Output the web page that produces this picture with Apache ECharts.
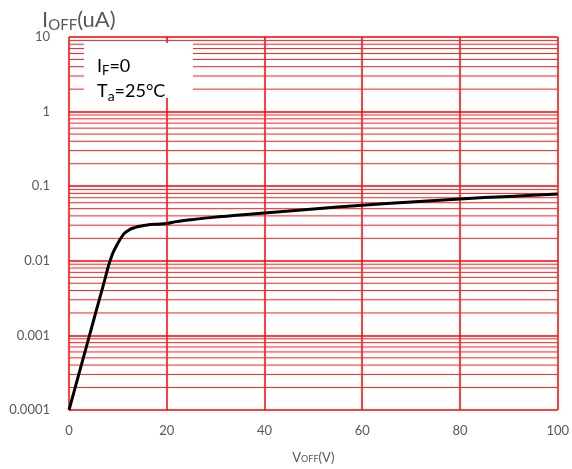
<!DOCTYPE html>
<html>
<head>
<meta charset="utf-8">
<script src="https://cdn.jsdelivr.net/npm/echarts@6/dist/echarts.min.js"></script>
<style>html,body{margin:0;padding:0;background:#fff}#c{width:572px;height:469px}</style>
</head>
<body>
<div id="c"></div>
<script>
// Data
var vOff = [0, 2, 4, 6, 7.4, 8, 9, 10, 10.8, 11.5, 12.5, 13.5, 14.5, 16, 18, 20, 22, 25, 30, 35, 40, 50, 60, 70, 80, 90, 100];
var iOff = [0.0001, 0.0003, 0.0009, 0.0027, 0.0058, 0.0082, 0.0128, 0.0172, 0.021, 0.0238, 0.0264, 0.0279, 0.029, 0.0302, 0.031, 0.0316, 0.0335, 0.0355, 0.0385, 0.041, 0.0437, 0.0495, 0.0555, 0.0615, 0.0675, 0.073, 0.0785];
var yTickLabels = ['0.0001', '0.001', '0.01', '0.1', '1', '10'];
var xTickLabels = ['0', '20', '40', '60', '80', '100'];
var decades = [0.0001, 0.001, 0.01, 0.1, 1];
var minorMultipliers = [2, 3, 4, 5, 6, 7, 8, 9];
var xRange = [0, 100];

var FONT = 'Lato, "Open Sans", sans-serif';
var GRAY = '#595959';

var minorSeries = [];
decades.forEach(function (d) {
  minorMultipliers.forEach(function (m) {
    var v = d * m;
    minorSeries.push({
      type: 'line', z: 1, silent: true, showSymbol: false, symbol: 'none',
      emphasis: { disabled: true },
      lineStyle: { color: '#ff2020', width: 1 },
      data: [[xRange[0], v], [xRange[1], v]]
    });
  });
});

var chart = echarts.init(document.getElementById('c'), null, { renderer: 'canvas' });
chart.setOption({
  animation: false,
  backgroundColor: '#fff',
  grid: { left: 69, right: 14, top: 37, bottom: 57, containLabel: false },
  xAxis: {
    type: 'value', min: 0, max: 100, interval: 20,
    axisLine: { show: false }, axisTick: { show: false },
    axisLabel: { color: GRAY, fontFamily: FONT, fontSize: 13, margin: 14,
      formatter: function (v) { return xTickLabels[Math.round(v / 20)]; } },
    splitLine: { show: true, lineStyle: { color: '#ff0000', width: 1.5 } },
    name: '{b|V}{s|OFF}{b|(V)}', nameLocation: 'middle', nameGap: 41,
    nameTextStyle: { rich: {
      b: { fontFamily: FONT, fontSize: 13, color: GRAY },
      s: { fontFamily: FONT, fontSize: 9, color: GRAY, padding: [3, 0, 0, 0] } } }
  },
  yAxis: {
    type: 'log', logBase: 10, min: 0.0001, max: 10,
    axisLine: { show: false }, axisTick: { show: false },
    axisLabel: { color: GRAY, fontFamily: FONT, fontSize: 13, margin: 19,
      formatter: function (v) { return yTickLabels[Math.round(Math.log10(v)) + 4]; } },
    splitLine: { show: true, lineStyle: { color: '#ff0000', width: 1.5 } }
  },
  graphic: [
    { type: 'text', left: 42, top: 9, z: 100,
      style: { text: '{b|I}{s|OFF}{b|(uA)}', rich: {
        b: { fontFamily: FONT, fontSize: 22, fill: GRAY },
        s: { fontFamily: FONT, fontSize: 15, fill: GRAY, padding: [10, 0, 0, 0] } } } },
    { type: 'rect', left: 84, top: 43, z: 100, shape: { width: 109, height: 55 }, style: { fill: '#fff' } },
    { type: 'text', left: 97, top: 57, z: 101,
      style: { text: '{b|I}{s|F}{b|=0}', rich: {
        b: { fontFamily: FONT, fontSize: 18, fill: '#000' },
        s: { fontFamily: FONT, fontSize: 13, fill: '#000', padding: [10, 0, 0, 0] } } } },
    { type: 'text', left: 97, top: 82, z: 101,
      style: { text: '{b|T}{s|a}{b|=25°C}', rich: {
        b: { fontFamily: FONT, fontSize: 18, fill: '#000' },
        s: { fontFamily: FONT, fontSize: 14, fill: '#000', padding: [10, 0, 0, 0] } } } }
  ],
  series: minorSeries.concat([
    { type: 'line', z: 5, smooth: 0.35, showSymbol: false, symbol: 'none',
      emphasis: { disabled: true },
      lineStyle: { color: '#000', width: 3 },
      data: vOff.map(function (v, i) { return [v, iOff[i]]; }) }
  ])
});
</script>
</body>
</html>
